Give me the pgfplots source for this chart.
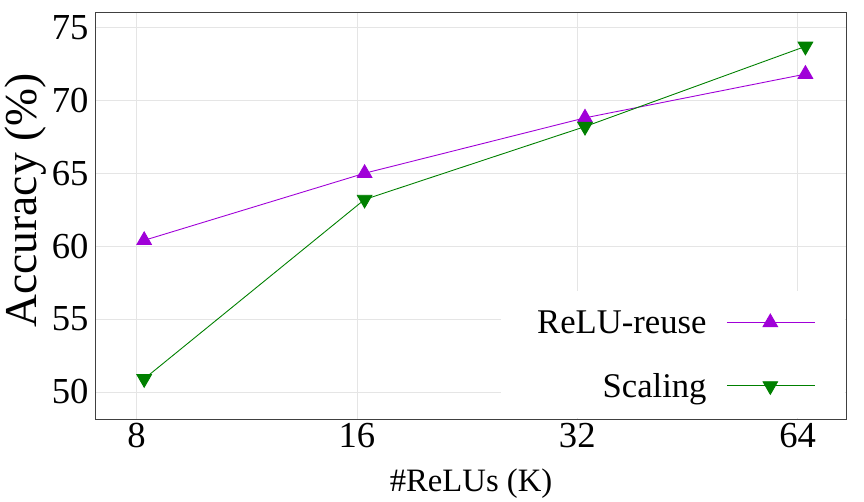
\documentclass[border=0pt]{standalone}
\usepackage{fontspec}
\setmainfont{Liberation Serif}
\usepackage{pgfplots}
\pgfplotsset{compat=1.18}
\definecolor{creuse}{HTML}{A000D8}
\definecolor{cscale}{HTML}{008000}

\begin{document}
\begin{tikzpicture}
\begin{axis}[
    scale only axis,
    width=758pt, height=411pt,
    xmin=-0.184, xmax=3.22,
    ymin=48.1, ymax=76.0,
    xtick={0,1,2,3},
    xticklabels={8,16,32,64},
    ytick={50,55,60,65,70,75},
    /pgf/number format/assume math mode=true,
    ticklabel style={font=\fontsize{37}{40}\selectfont},
    xticklabel style={yshift=0pt},
    yticklabel style={xshift=-4pt},
    major tick length=0pt,
    xlabel={\#ReLUs (K)},
    ylabel={Accuracy (\%)},
    xlabel style={font=\fontsize{33}{36}\selectfont, yshift=-14pt},
    ylabel style={font=\fontsize{46}{50}\selectfont, inner sep=5pt, yshift=-3pt, xshift=16pt},
    axis line style={draw=black!75, line width=0.9pt},
    grid=major,
    major grid style={draw=gray!20, line width=0.6pt},
    legend plot pos=right,
    legend cell align=right,
    legend style={at={(1,0)}, anchor=south east, xshift=-1pt, yshift=1pt,
        draw=none, fill=white,
        font=\fontsize{35}{40}\selectfont, row sep=33pt, column sep=17pt,
        inner xsep=30pt, inner ysep=17pt, nodes={inner sep=3pt}},
    legend image code/.code={%
        \draw[mark repeat=2, mark phase=2] plot coordinates {(0pt,0pt) (44pt,0pt) (89pt,0pt)};},
]
\addplot[color=creuse, line width=0.9pt, mark=triangle*, mark size=8.5pt,
    mark options={solid, fill=creuse}] coordinates {
    (0.035,60.4) (1.035,65.0) (2.035,68.8) (3.035,71.8)
};
\addlegendentry{\hspace*{4pt}ReLU-reuse}
\addplot[color=cscale, line width=0.9pt, mark=triangle*, mark size=8.5pt,
    mark options={solid, fill=cscale, rotate=180}] coordinates {
    (0.035,50.9) (1.035,63.2) (2.035,68.2) (3.035,73.7)
};
\addlegendentry{Scaling}
\end{axis}
\path (current axis.north east) ++(18pt,13pt);
\end{tikzpicture}
\end{document}
